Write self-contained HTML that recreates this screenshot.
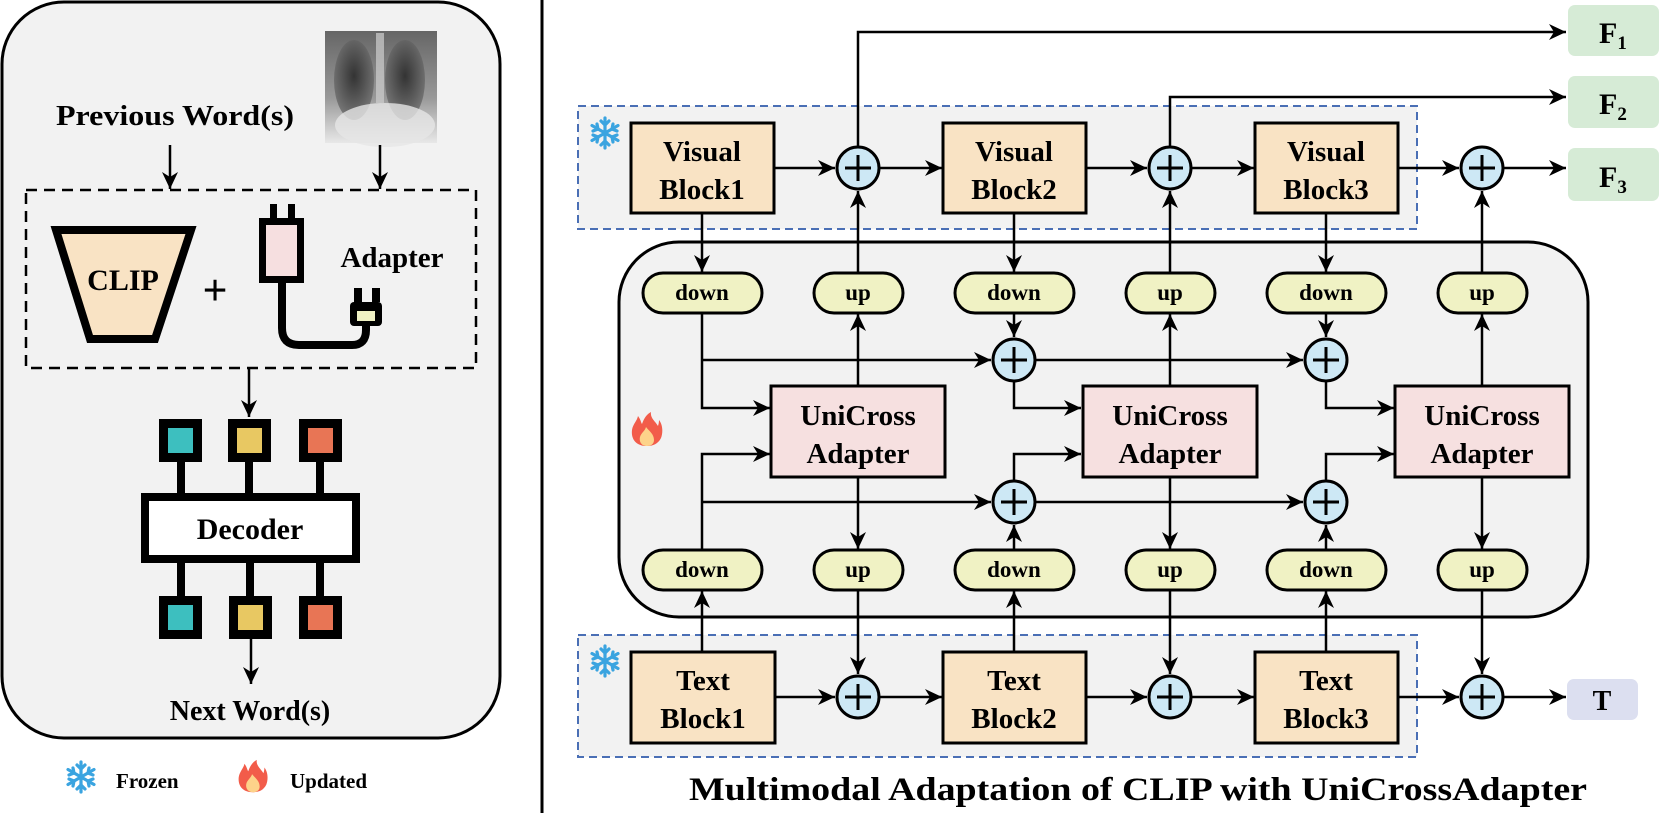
<!DOCTYPE html>
<html><head><meta charset="utf-8"><style>
html,body{margin:0;padding:0;background:#fff}
svg{display:block}
text{font-family:"Liberation Serif","Times New Roman",serif;font-weight:bold;fill:#000}
</style></head><body>
<svg width="1660" height="813" viewBox="0 0 1660 813" xmlns="http://www.w3.org/2000/svg">
<defs>
<marker id="a" markerUnits="userSpaceOnUse" markerWidth="18" markerHeight="16" refX="17" refY="8" orient="auto">
<path d="M0,0 L17,8 L0,16 L5,8 z" fill="#000"/></marker>
<radialGradient id="lungL" cx="0.5" cy="0.45" r="0.6"><stop offset="0" stop-color="#2a2a2a"/><stop offset="1" stop-color="#777"/></radialGradient>
<linearGradient id="xb" x1="0" y1="0" x2="0" y2="1"><stop offset="0" stop-color="#666"/><stop offset="0.6" stop-color="#999"/><stop offset="1" stop-color="#e8e8e8"/></linearGradient>
<g id="snow" stroke="#3aa4e0" stroke-width="3.2" stroke-linecap="round" fill="none">
<path d="M0,-15 V15 M-13,-7.5 L13,7.5 M-13,7.5 L13,-7.5"/>
<path d="M-4,-12 L0,-8 L4,-12 M-4,12 L0,8 L4,12 M-12,-2 L-7,-4 L-8,-9 M12,2 L7,4 L8,9 M-12,2 L-7,4 L-8,9 M12,-2 L7,-4 L8,-9"/>
</g>
<g id="fire"><path d="M0,16 C-12,16 -16,8 -15,0 C-14,-6 -10,-9 -9,-14 C-6,-10 -6,-7 -5,-6 C-3,-12 0,-16 4,-18 C3,-12 8,-9 11,-4 C12,-7 12,-9 12,-10 C16,-5 16,3 14,8 C11,14 6,16 0,16 z" fill="#f25c4a"/>
<path d="M0,16 C-6,16 -8,11 -7,7 C-6,3 -2,1 -1,-3 C2,1 7,4 7,10 C7,14 4,16 0,16 z" fill="#fdd38a"/></g>
</defs>

<!-- LEFT PANEL -->
<rect x="2" y="2" width="498" height="736" rx="62" fill="#f2f2f2" stroke="#000" stroke-width="3"/>
<line x1="542" y1="0" x2="542" y2="813" stroke="#000" stroke-width="3"/>

<text x="175" y="125" font-size="29" text-anchor="middle" textLength="238" lengthAdjust="spacingAndGlyphs">Previous Word(s)</text>
<!-- xray -->
<rect x="325" y="31" width="112" height="112" fill="url(#xb)"/>
<ellipse cx="354" cy="80" rx="20" ry="40" fill="url(#lungL)" opacity="0.9"/>
<ellipse cx="405" cy="80" rx="20" ry="40" fill="url(#lungL)" opacity="0.9"/>
<rect x="376" y="33" width="8" height="70" fill="#cfcfcf" opacity="0.7"/>
<ellipse cx="385" cy="125" rx="50" ry="22" fill="#e6e6e6" opacity="0.8"/>

<line x1="170" y1="145" x2="170" y2="189" stroke="#000" stroke-width="2.5" marker-end="url(#a)"/>
<line x1="380" y1="145" x2="380" y2="189" stroke="#000" stroke-width="2.5" marker-end="url(#a)"/>
<rect x="26" y="190" width="450" height="178" fill="none" stroke="#000" stroke-width="2.5" stroke-dasharray="11,7"/>

<polygon points="56,230 191,230 155,339 90,339" fill="#f9e3c4" stroke="#000" stroke-width="8"/>
<text x="123" y="290" font-size="30" text-anchor="middle">CLIP</text>
<text x="215" y="305" font-size="44" text-anchor="middle">+</text>

<!-- plug -->
<rect x="270" y="204" width="7" height="16" fill="#000"/>
<rect x="288" y="204" width="7" height="16" fill="#000"/>
<rect x="262.5" y="221.5" width="38" height="58" fill="#f6dfe0" stroke="#000" stroke-width="7"/>
<path d="M282,283 V328 Q282,345 299,345 H352 Q366,345 366,330 V326" fill="none" stroke="#000" stroke-width="8"/>
<rect x="354" y="288" width="8" height="14" fill="#000"/>
<rect x="372" y="288" width="8" height="14" fill="#000"/>
<rect x="350" y="302" width="32" height="24" rx="4" fill="#000"/>
<rect x="357" y="311" width="18" height="10" fill="#f0f2c4"/>
<text x="392" y="267" font-size="29" text-anchor="middle">Adapter</text>

<line x1="249" y1="368" x2="249" y2="417" stroke="#000" stroke-width="2.5" marker-end="url(#a)"/>
<!-- decoder -->
<g fill="#000">
<rect x="177" y="460" width="8" height="35"/><rect x="245" y="460" width="8" height="35"/><rect x="316" y="460" width="8" height="35"/>
<rect x="177" y="562" width="8" height="36"/><rect x="246" y="562" width="8" height="36"/><rect x="316" y="562" width="8" height="36"/>
</g>
<g stroke="#000" stroke-width="9">
<rect x="163.5" y="423.5" width="34" height="34" fill="#3dbfbf"/>
<rect x="232.5" y="423.5" width="34" height="34" fill="#e8c862"/>
<rect x="303.5" y="423.5" width="34" height="34" fill="#e87555"/>
<rect x="163.5" y="600.5" width="34" height="34" fill="#3dbfbf"/>
<rect x="233.5" y="600.5" width="34" height="34" fill="#e8c862"/>
<rect x="303.5" y="600.5" width="34" height="34" fill="#e87555"/>
<rect x="145" y="497" width="211" height="62" fill="#fff" stroke-width="8"/>
</g>
<text x="250" y="539" font-size="30" text-anchor="middle">Decoder</text>
<line x1="251" y1="639" x2="251" y2="684" stroke="#000" stroke-width="2.5" marker-end="url(#a)"/>
<text x="250" y="720" font-size="28" text-anchor="middle">Next Word(s)</text>

<!-- legend -->
<use href="#snow" x="81" y="777"/>
<text x="116" y="788" font-size="21">Frozen</text>
<use href="#fire" transform="translate(253,777) scale(0.95)"/>
<text x="290" y="788" font-size="21">Updated</text>

<!-- RIGHT -->
<rect x="578" y="106" width="839" height="123" fill="#f2f2f2" stroke="#4a6fb5" stroke-width="2" stroke-dasharray="8,5"/>
<rect x="578" y="635" width="839" height="122" fill="#f2f2f2" stroke="#4a6fb5" stroke-width="2" stroke-dasharray="8,5"/>
<rect x="619" y="242" width="969" height="375" rx="60" fill="#f2f2f2" stroke="#000" stroke-width="3"/>
<use href="#snow" x="605" y="133"/>
<use href="#snow" x="605" y="661"/>
<use href="#fire" x="647" y="430"/>

<g stroke="#000" stroke-width="2.5" fill="none">
<path d="M858,146 V32 H1566" marker-end="url(#a)"/>
<path d="M1170,146 V97 H1566" marker-end="url(#a)"/>
<line x1="774" y1="168" x2="835" y2="168" marker-end="url(#a)"/>
<line x1="880" y1="168" x2="942" y2="168" marker-end="url(#a)"/>
<line x1="1086" y1="168" x2="1147" y2="168" marker-end="url(#a)"/>
<line x1="1192" y1="168" x2="1254" y2="168" marker-end="url(#a)"/>
<line x1="1398" y1="168" x2="1459" y2="168" marker-end="url(#a)"/>
<line x1="1504" y1="168" x2="1566" y2="168" marker-end="url(#a)"/>
<line x1="775" y1="697" x2="835" y2="697" marker-end="url(#a)"/>
<line x1="880" y1="697" x2="942" y2="697" marker-end="url(#a)"/>
<line x1="1086" y1="697" x2="1147" y2="697" marker-end="url(#a)"/>
<line x1="1192" y1="697" x2="1254" y2="697" marker-end="url(#a)"/>
<line x1="1398" y1="697" x2="1459" y2="697" marker-end="url(#a)"/>
<line x1="1504" y1="697" x2="1566" y2="697" marker-end="url(#a)"/>
<line x1="702" y1="213" x2="702" y2="272" marker-end="url(#a)"/>
<line x1="1014" y1="213" x2="1014" y2="272" marker-end="url(#a)"/>
<line x1="1326" y1="213" x2="1326" y2="272" marker-end="url(#a)"/>
<line x1="858" y1="273" x2="858" y2="191" marker-end="url(#a)"/>
<line x1="1170" y1="273" x2="1170" y2="191" marker-end="url(#a)"/>
<line x1="1482" y1="273" x2="1482" y2="191" marker-end="url(#a)"/>
<line x1="858" y1="386" x2="858" y2="314" marker-end="url(#a)"/>
<line x1="1170" y1="386" x2="1170" y2="314" marker-end="url(#a)"/>
<line x1="1482" y1="386" x2="1482" y2="314" marker-end="url(#a)"/>
<path d="M702,313 V408 H770" marker-end="url(#a)"/>
<line x1="702" y1="360" x2="991" y2="360" marker-end="url(#a)"/>
<line x1="1014" y1="313" x2="1014" y2="337" marker-end="url(#a)"/>
<line x1="1326" y1="313" x2="1326" y2="337" marker-end="url(#a)"/>
<line x1="1036" y1="360" x2="1303" y2="360" marker-end="url(#a)"/>
<path d="M1014,382 V408 H1081" marker-end="url(#a)"/>
<path d="M1326,382 V408 H1394" marker-end="url(#a)"/>
<path d="M702,550 V454 H770" marker-end="url(#a)"/>
<line x1="702" y1="502" x2="991" y2="502" marker-end="url(#a)"/>
<line x1="1014" y1="550" x2="1014" y2="525" marker-end="url(#a)"/>
<line x1="1326" y1="550" x2="1326" y2="525" marker-end="url(#a)"/>
<line x1="1036" y1="502" x2="1303" y2="502" marker-end="url(#a)"/>
<path d="M1014,480 V454 H1081" marker-end="url(#a)"/>
<path d="M1326,480 V454 H1394" marker-end="url(#a)"/>
<line x1="858" y1="477" x2="858" y2="549" marker-end="url(#a)"/>
<line x1="1170" y1="477" x2="1170" y2="549" marker-end="url(#a)"/>
<line x1="1482" y1="477" x2="1482" y2="549" marker-end="url(#a)"/>
<line x1="858" y1="590" x2="858" y2="674" marker-end="url(#a)"/>
<line x1="1170" y1="590" x2="1170" y2="674" marker-end="url(#a)"/>
<line x1="1482" y1="590" x2="1482" y2="674" marker-end="url(#a)"/>
<line x1="702" y1="652" x2="702" y2="591" marker-end="url(#a)"/>
<line x1="1014" y1="652" x2="1014" y2="591" marker-end="url(#a)"/>
<line x1="1326" y1="652" x2="1326" y2="591" marker-end="url(#a)"/>
</g>

<g stroke="#000" stroke-width="3" fill="#f9e3c4">
<rect x="631" y="123" width="143" height="90"/>
<rect x="943" y="123" width="143" height="90"/>
<rect x="1255" y="123" width="143" height="90"/>
<rect x="631" y="652" width="144" height="91"/>
<rect x="943" y="652" width="143" height="91"/>
<rect x="1255" y="652" width="143" height="91"/>
</g>
<g font-size="29" text-anchor="middle">
<text x="702" y="161">Visual</text><text x="702" y="199">Block1</text>
<text x="1014" y="161">Visual</text><text x="1014" y="199">Block2</text>
<text x="1326" y="161">Visual</text><text x="1326" y="199">Block3</text>
<text x="703" y="690">Text</text><text x="703" y="728">Block1</text>
<text x="1014" y="690">Text</text><text x="1014" y="728">Block2</text>
<text x="1326" y="690">Text</text><text x="1326" y="728">Block3</text>
</g>
<g stroke="#000" stroke-width="3" fill="#f6e0e0">
<rect x="771" y="386" width="174" height="91"/>
<rect x="1083" y="386" width="174" height="91"/>
<rect x="1395" y="386" width="174" height="91"/>
</g>
<g font-size="29" text-anchor="middle">
<text x="858" y="425">UniCross</text><text x="858" y="463">Adapter</text>
<text x="1170" y="425">UniCross</text><text x="1170" y="463">Adapter</text>
<text x="1482" y="425">UniCross</text><text x="1482" y="463">Adapter</text>
</g>
<g stroke="#000" stroke-width="3" fill="#f0f2c4">
<rect x="643" y="273" width="119" height="40" rx="20"/>
<rect x="955" y="273" width="119" height="40" rx="20"/>
<rect x="1267" y="273" width="119" height="40" rx="20"/>
<rect x="814" y="273" width="89" height="40" rx="20"/>
<rect x="1126" y="273" width="89" height="40" rx="20"/>
<rect x="1438" y="273" width="89" height="40" rx="20"/>
<rect x="643" y="550" width="119" height="40" rx="20"/>
<rect x="955" y="550" width="119" height="40" rx="20"/>
<rect x="1267" y="550" width="119" height="40" rx="20"/>
<rect x="814" y="550" width="89" height="40" rx="20"/>
<rect x="1126" y="550" width="89" height="40" rx="20"/>
<rect x="1438" y="550" width="89" height="40" rx="20"/>
</g>
<g font-size="23" text-anchor="middle">
<text x="702" y="300">down</text><text x="1014" y="300">down</text><text x="1326" y="300">down</text>
<text x="858" y="300">up</text><text x="1170" y="300">up</text><text x="1482" y="300">up</text>
<text x="702" y="577">down</text><text x="1014" y="577">down</text><text x="1326" y="577">down</text>
<text x="858" y="577">up</text><text x="1170" y="577">up</text><text x="1482" y="577">up</text>
</g>
<g stroke="#000" stroke-width="3" fill="#cde8f5">
<circle cx="858" cy="168" r="21"/><circle cx="1170" cy="168" r="21"/><circle cx="1482" cy="168" r="21"/>
<circle cx="1014" cy="360" r="21"/><circle cx="1326" cy="360" r="21"/>
<circle cx="1014" cy="502" r="21"/><circle cx="1326" cy="502" r="21"/>
<circle cx="858" cy="697" r="21"/><circle cx="1170" cy="697" r="21"/><circle cx="1482" cy="697" r="21"/>
</g>
<g stroke="#000" stroke-width="3">
<path d="M845,168 H871 M858,155 V181"/><path d="M1157,168 H1183 M1170,155 V181"/><path d="M1469,168 H1495 M1482,155 V181"/>
<path d="M1001,360 H1027 M1014,347 V373"/><path d="M1313,360 H1339 M1326,347 V373"/>
<path d="M1001,502 H1027 M1014,489 V515"/><path d="M1313,502 H1339 M1326,489 V515"/>
<path d="M845,697 H871 M858,684 V710"/><path d="M1157,697 H1183 M1170,684 V710"/><path d="M1469,697 H1495 M1482,684 V710"/>
</g>
<rect x="1568" y="5" width="91" height="51" rx="7" fill="#d6ebd6"/>
<rect x="1568" y="76" width="91" height="52" rx="7" fill="#d6ebd6"/>
<rect x="1568" y="148" width="91" height="53" rx="7" fill="#d6ebd6"/>
<rect x="1567" y="679" width="71" height="41" rx="7" fill="#dcdff0"/>
<text x="1599" y="43" font-size="30">F<tspan font-size="19" dy="6">1</tspan></text>
<text x="1599" y="114" font-size="30">F<tspan font-size="19" dy="6">2</tspan></text>
<text x="1599" y="187" font-size="30">F<tspan font-size="19" dy="6">3</tspan></text>
<text x="1602" y="710" font-size="28" text-anchor="middle">T</text>

<text x="1138" y="800" font-size="33" text-anchor="middle" textLength="898" lengthAdjust="spacingAndGlyphs">Multimodal Adaptation of CLIP with UniCrossAdapter</text>
</svg>
</body></html>
